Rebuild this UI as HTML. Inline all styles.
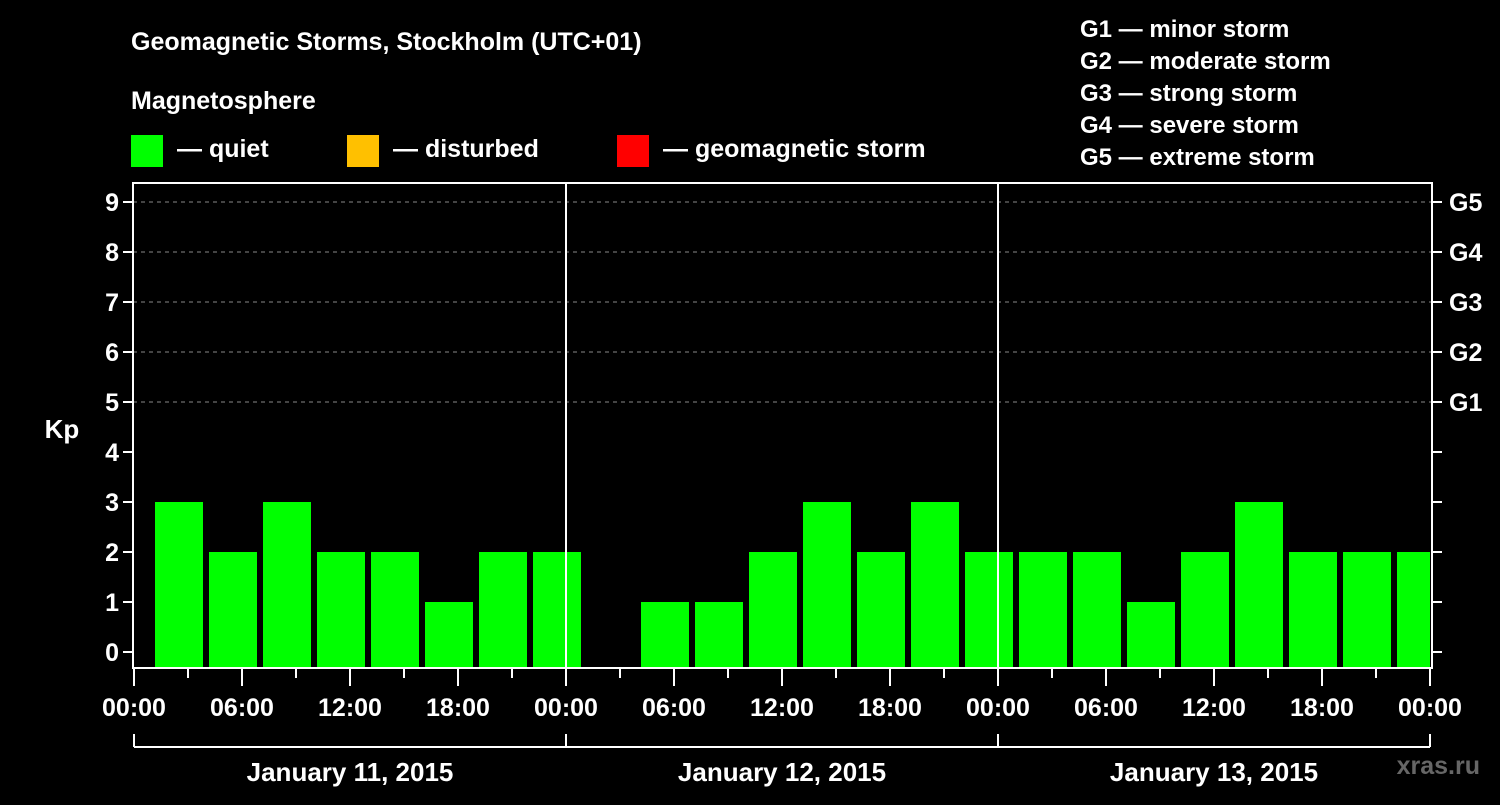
<!DOCTYPE html>
<html><head><meta charset="utf-8"><style>
body{margin:0;background:#000;width:1500px;height:800px;overflow:hidden}
svg text{font-family:"Liberation Sans",Arial,sans-serif;font-weight:bold;fill:#fff}
</style></head><body>
<svg id="c" width="1500" height="800">
<text x="131" y="50" font-size="25">Geomagnetic Storms, Stockholm (UTC+01)</text>
<text x="131" y="109" font-size="25">Magnetosphere</text>
<rect x="131" y="135" width="32" height="32" fill="#00ff00"/>
<text x="177" y="157" font-size="25">— quiet</text>
<rect x="347" y="135" width="32" height="32" fill="#ffc000"/>
<text x="393" y="157" font-size="25">— disturbed</text>
<rect x="617" y="135" width="32" height="32" fill="#ff0000"/>
<text x="663" y="157" font-size="25">— geomagnetic storm</text>
<g font-size="24">
<text x="1080" y="37">G1 — minor storm</text>
<text x="1080" y="69">G2 — moderate storm</text>
<text x="1080" y="101">G3 — strong storm</text>
<text x="1080" y="133">G4 — severe storm</text>
<text x="1080" y="165">G5 — extreme storm</text>
</g>
<text x="62" y="438" font-size="26" text-anchor="middle">Kp</text>
<text x="1480" y="774" font-size="25" text-anchor="end" fill="#555" style="fill:#666">xras.ru</text>
<g id="g"></g>
</svg>
<script>
const values = [3,2,3,2,2,1,2,2, null,1,1,2,3,2,3,2, 2,2,1,2,3,2,2,2];
const kpTicks = [0,1,2,3,4,5,6,7,8,9];
const gLabels = ['G1','G2','G3','G4','G5'];
const hourLabels = ['00:00','06:00','12:00','18:00'];
const dayLabels = ['January 11, 2015','January 12, 2015','January 13, 2015'];
const binOffsetHours = 1;

const L=133,R=1432,T=183,B=668,X0=134,HW=(1430-134)/72;
const xs=h=>X0+h*HW, ys=v=>652-v*50;
const g=document.getElementById('g'), NS='http://www.w3.org/2000/svg';
function mk(t,a,txt){const e=document.createElementNS(NS,t);for(const k in a)e.setAttribute(k,a[k]);if(txt!==undefined)e.textContent=txt;g.appendChild(e);return e;}
// grid
kpTicks.forEach(v=>{if(v>=5){const e=mk('line',{x1:L,x2:R,y1:ys(v),y2:ys(v),stroke:'#888','stroke-dasharray':'4,4','stroke-width':1});

}});
// bars
values.forEach((v,i)=>{if(v===null)return;const h0=binOffsetHours+i*3;const x1=Math.max(L,xs(h0)+3),x2=Math.min(R-2,xs(h0+3)-3);
const c=v>=5?'#ff0000':(v>=4?'#ffc000':'#00ff00');
const e=mk('rect',{x:x1,y:ys(v),width:x2-x1,height:B-ys(v),fill:c});

});
// day separators
[1,2].forEach(d=>{const e=mk('line',{x1:xs(d*24),x2:xs(d*24),y1:T,y2:B,stroke:'#fff','stroke-width':2});

});
// frame
const f=mk('rect',{x:L,y:T,width:R-L,height:B-T,fill:'none',stroke:'#fff','stroke-width':2});


// y ticks
kpTicks.forEach(v=>{mk('line',{x1:L-10,x2:L,y1:ys(v),y2:ys(v),stroke:'#fff','stroke-width':2});
mk('line',{x1:R,x2:R+10,y1:ys(v),y2:ys(v),stroke:'#fff','stroke-width':2});
const t=mk('text',{x:L-14,y:ys(v)+9,'font-size':25,'text-anchor':'end'},String(v));

});
gLabels.forEach((s,i)=>{const t=mk('text',{x:R+17,y:ys(5+i)+9,'font-size':25},s);

});
// x ticks
for(let h=0;h<=72;h+=3){const maj=h%6===0;mk('line',{x1:xs(h),x2:xs(h),y1:B,y2:B+(maj?18:10),stroke:'#fff','stroke-width':2});
if(maj&&(h%6===0)){const t=mk('text',{x:xs(h),y:716,'font-size':25,'text-anchor':'middle'},hourLabels[(h/6)%4]);

}}
// day bracket
mk('line',{x1:xs(0),x2:xs(72),y1:747,y2:747,stroke:'#fff','stroke-width':2});
for(let d=0;d<=3;d++)mk('line',{x1:xs(d*24),x2:xs(d*24),y1:734,y2:747,stroke:'#fff','stroke-width':2});
dayLabels.forEach((s,d)=>{const t=mk('text',{x:xs(d*24+12),y:781,'font-size':26,'text-anchor':'middle'},s);

});
</script>
</body></html>
